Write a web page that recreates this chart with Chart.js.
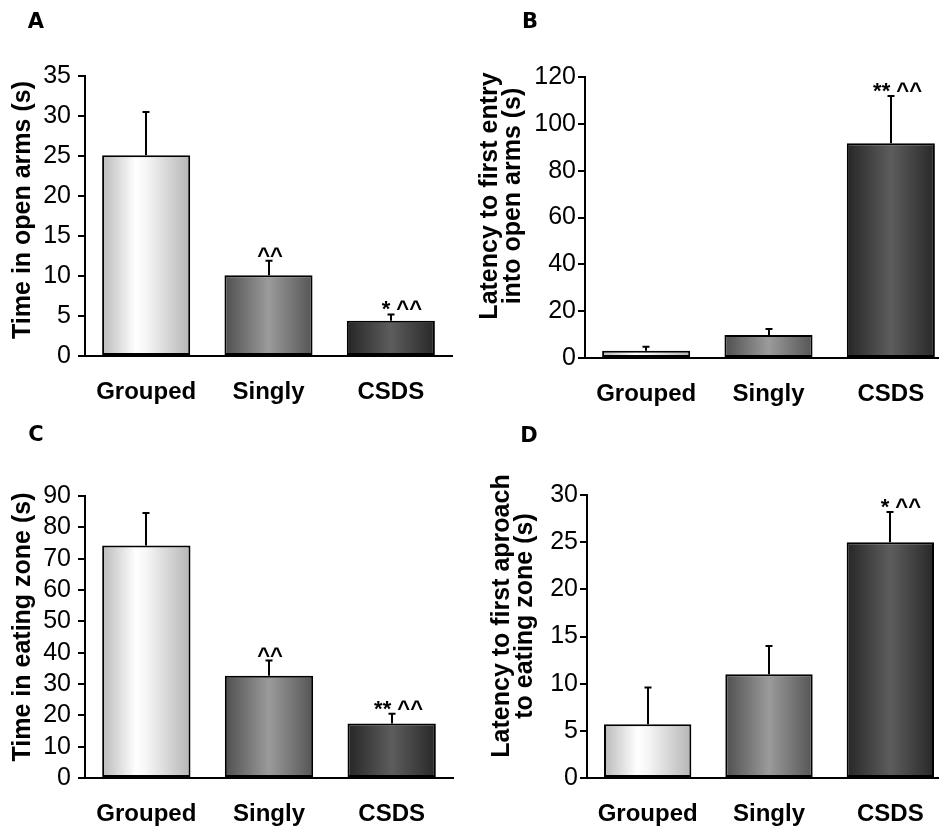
<!DOCTYPE html>
<html><head><meta charset="utf-8">
<script src="https://cdn.jsdelivr.net/npm/chart.js@4/dist/chart.umd.min.js"></script>
<style>
html,body{margin:0;padding:0;background:#fff;overflow:hidden;}
#fig{position:relative;width:939px;height:827px;overflow:hidden;background:#fff;}
.p{position:absolute;}
canvas{display:block;}
</style></head><body>
<div id="fig">
  <div class="p" style="left:0;top:0;"><canvas id="cA" width="470" height="410"></canvas></div>
  <div class="p" style="left:470px;top:0;"><canvas id="cB" width="500" height="410"></canvas></div>
  <div class="p" style="left:0;top:410px;"><canvas id="cC" width="470" height="417"></canvas></div>
  <div class="p" style="left:470px;top:410px;"><canvas id="cD" width="500" height="417"></canvas></div>
</div>
<script>
// ---------- data ----------
const categories = ['Grouped', 'Singly', 'CSDS'];

const timeOpenArms = [25.1, 10.1, 4.4];
const timeOpenArmsSEM = [5.4, 1.8, 0.8];
const timeOpenArmsSig = ['', '^^', '* ^^'];
const timeOpenArmsTicks = [0, 5, 10, 15, 20, 25, 30, 35];

const latencyOpenArms = [3.1, 9.8, 91.7];
const latencyOpenArmsSEM = [1.7, 2.6, 20.2];
const latencyOpenArmsSig = ['', '', '** ^^'];
const latencyOpenArmsTicks = [0, 20, 40, 60, 80, 100, 120];

const timeEatingZone = [74.2, 32.6, 17.4];
const timeEatingZoneSEM = [10.4, 4.9, 3.1];
const timeEatingZoneSig = ['', '^^', '** ^^'];
const timeEatingZoneTicks = [0, 10, 20, 30, 40, 50, 60, 70, 80, 90];

const latencyEatingZone = [5.7, 11.0, 25.0];
const latencyEatingZoneSEM = [3.9, 3.0, 3.2];
const latencyEatingZoneSig = ['', '', '* ^^'];
const latencyEatingZoneTicks = [0, 5, 10, 15, 20, 25, 30];

// ---------- styles ----------
const SANS = '"Liberation Sans", Arial, Helvetica, sans-serif';
const VERD = '"DejaVu Sans", Verdana, sans-serif';
const barStops = [
  [[0, '#b9b9b9'], [0.38, '#ffffff'], [0.5, '#f6f6f6'], [1, '#b5b5b5']],
  [[0, '#4f4f4f'], [0.5, '#9b9b9b'], [1, '#555555']],
  [[0, '#262626'], [0.5, '#5d5d5d'], [1, '#282828']]
];

function barGradient(c) {
  const chart = c.chart;
  const xs = chart.scales && chart.scales.x;
  const i = c.dataIndex;
  if (!xs || i === undefined) return '#999999';
  const cx = xs.getPixelForValue(i);
  const w = xs.width / categories.length * 0.72;
  if (!isFinite(cx) || !isFinite(w) || w <= 0) return '#999999';
  const g = chart.ctx.createLinearGradient(cx - w / 2, 0, cx + w / 2, 0);
  barStops[i].forEach(s => g.addColorStop(s[0], s[1]));
  return g;
}

const overlay = {
  id: 'overlay',
  afterDatasetsDraw(chart, args, o) {
    const ctx = chart.ctx;
    const meta = chart.getDatasetMeta(0);
    const ys = chart.scales.y;
    const vals = chart.data.datasets[0].data;
    ctx.save();
    ctx.strokeStyle = '#000';
    ctx.lineWidth = 2;
    vals.forEach((v, i) => {
      const x = Math.round(meta.data[i].x);
      const yb = ys.getPixelForValue(v);
      const yt = ys.getPixelForValue(v + o.sem[i]);
      ctx.beginPath();
      ctx.moveTo(x, yb); ctx.lineTo(x, yt);
      ctx.moveTo(x - 3.5, yt); ctx.lineTo(x + 3.5, yt);
      ctx.stroke();
      const s = o.sig[i];
      if (s) {
        ctx.save();
        ctx.font = 'bold 22px ' + SANS;
        ctx.fillStyle = '#000';
        ctx.textBaseline = 'alphabetic';
        let tx;
        if (s.length > 2) { ctx.textAlign = 'right'; tx = x + 31; }
        else { ctx.textAlign = 'center'; tx = x + 1; }
        ctx.fillText(s, tx, yt + o.sigDy);
        ctx.restore();
      }
    });
    ctx.restore();
  },
  afterDraw(chart, args, o) {
    const ctx = chart.ctx;
    ctx.save();
    ctx.fillStyle = '#000';
    ctx.font = 'bold 21px ' + VERD;
    ctx.textAlign = 'center';
    ctx.textBaseline = 'middle';
    ctx.fillText(o.letter, o.letterX, o.letterY);
    ctx.font = 'bold 25px ' + SANS;
    ctx.textBaseline = 'alphabetic';
    o.title.forEach((t, k) => {
      ctx.save();
      ctx.translate(o.titleX[k], o.titleY);
      ctx.rotate(-Math.PI / 2);
      ctx.textAlign = 'center';
      ctx.fillText(t, 0, 0);
      ctx.restore();
    });
    ctx.restore();
  }
};

function makeChart(id, cfg) {
  const canvas = document.getElementById(id);
  const W = canvas.width, H = canvas.height;
  return new Chart(canvas, {
    type: 'bar',
    data: {
      labels: categories,
      datasets: [{
        data: cfg.values,
        borderColor: '#000',
        borderWidth: 2,
        borderSkipped: false,
        barPercentage: 0.72,
        categoryPercentage: 1.0,
        backgroundColor: barGradient
      }]
    },
    options: {
      responsive: false,
      animation: false,
      events: [],
      layout: { padding: { left: 0, top: cfg.area.top, right: W - cfg.area.right, bottom: 0 } },
      plugins: {
        legend: { display: false },
        tooltip: { enabled: false },
        overlay: {
          sem: cfg.sem, sig: cfg.sig, sigDy: 2,
          letter: cfg.letter, letterX: cfg.letterX, letterY: cfg.letterY,
          title: cfg.title, titleX: cfg.titleX, titleY: cfg.titleY
        }
      },
      scales: {
        x: {
          type: 'category',
          grid: { display: false, drawTicks: false },
          border: { display: true, color: '#000', width: 2 },
          ticks: { color: '#000', font: { family: SANS, size: 24, weight: 'bold' }, padding: 22, autoSkip: false, maxRotation: 0, minRotation: 0 },
          afterFit: s => { s.height = H - cfg.area.bottom; }
        },
        y: {
          min: cfg.ticks[0],
          max: cfg.ticks[cfg.ticks.length - 1],
          afterBuildTicks: s => { s.ticks = cfg.ticks.map(v => ({ value: v })); },
          grid: { display: true, drawOnChartArea: false, drawTicks: true, tickLength: 7, color: '#000', lineWidth: 2 },
          border: { display: true, color: '#000', width: 2 },
          ticks: { color: '#000', font: { family: SANS, size: 25 }, padding: cfg.tickPad, autoSkip: false },
          afterFit: s => { s.width = cfg.area.left; }
        }
      }
    },
    plugins: [overlay]
  });
}

makeChart('cA', {
  values: timeOpenArms, sem: timeOpenArmsSEM, sig: timeOpenArmsSig, ticks: timeOpenArmsTicks,
  area: { left: 85, top: 76, bottom: 356, right: 452 }, tickPad: 7,
  letter: 'A', letterX: 36, letterY: 23,
  title: ['Time in open arms (s)'], titleX: [30], titleY: 210
});
makeChart('cB', {
  values: latencyOpenArms, sem: latencyOpenArmsSEM, sig: latencyOpenArmsSig, ticks: latencyOpenArmsTicks,
  area: { left: 115, top: 77, bottom: 358, right: 482 }, tickPad: 2,
  letter: 'B', letterX: 60, letterY: 23,
  title: ['Latency to first entry', 'into open arms (s)'], titleX: [27, 50], titleY: 196
});
makeChart('cC', {
  values: timeEatingZone, sem: timeEatingZoneSEM, sig: timeEatingZoneSig, ticks: timeEatingZoneTicks,
  area: { left: 85, top: 86, bottom: 368, right: 453 }, tickPad: 7,
  letter: 'C', letterX: 36, letterY: 26,
  title: ['Time in eating zone (s)'], titleX: [30], titleY: 217
});
makeChart('cD', {
  values: latencyEatingZone, sem: latencyEatingZoneSEM, sig: latencyEatingZoneSig, ticks: latencyEatingZoneTicks,
  area: { left: 117, top: 85, bottom: 368, right: 481 }, tickPad: 2,
  letter: 'D', letterX: 59, letterY: 27,
  title: ['Latency to first aproach', 'to eating zone (s)'], titleX: [39, 62], titleY: 206
});
</script>
</body></html>
